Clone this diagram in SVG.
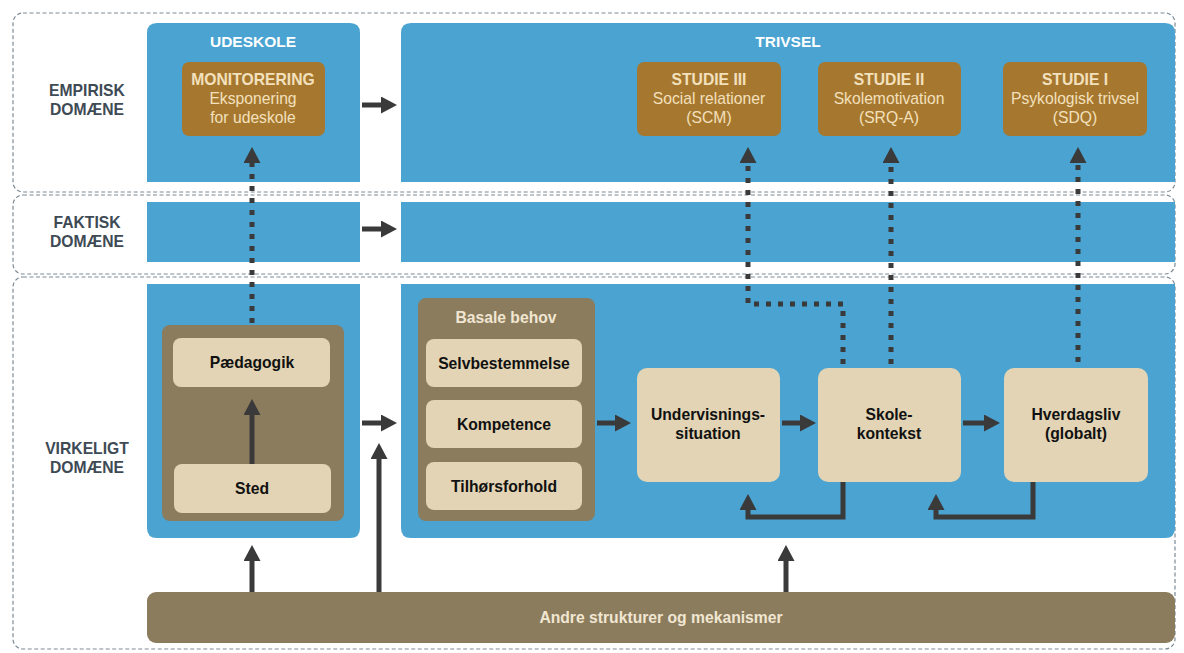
<svg xmlns="http://www.w3.org/2000/svg" width="1184" height="653" viewBox="0 0 1184 653">
<style>
.dom{fill:none;stroke:#7d8b96;stroke-width:1.2;stroke-dasharray:4 2.5}
.blue{fill:#4aa3d0}
.stud{fill:#a6782f}
.khaki{fill:#8b7c5d}
.cream{fill:#e2d4b4}
.dl{font-family:"Liberation Sans",Arial,sans-serif;font-weight:bold;font-size:15.7px;fill:#3e4a54;text-anchor:middle}
.ttl{font-family:"Liberation Sans",Arial,sans-serif;font-weight:bold;font-size:15.5px;fill:#ffffff;text-anchor:middle}
.sb{font-family:"Liberation Sans",Arial,sans-serif;font-weight:bold;font-size:15.7px;fill:#f3e0bd;text-anchor:middle}
.sr{font-family:"Liberation Sans",Arial,sans-serif;font-size:15.7px;fill:#f3e0bd;text-anchor:middle}
.ct{font-family:"Liberation Sans",Arial,sans-serif;font-weight:bold;font-size:15.7px;fill:#111111;text-anchor:middle}
.bh{font-family:"Liberation Sans",Arial,sans-serif;font-weight:bold;font-size:15.7px;fill:#f1e6d2;text-anchor:middle}
.ar{fill:none;stroke:#3a3a3a;stroke-width:5;marker-end:url(#ah)}
.dot{fill:none;stroke:#3a3a3a;stroke-width:5;stroke-dasharray:5 7;marker-end:url(#ah)}
</style>
<defs>
<marker id="ah" viewBox="0 0 16 17" refX="0" refY="8.5" markerWidth="16" markerHeight="17" markerUnits="userSpaceOnUse" orient="auto">
<path d="M0,0 L16,8.5 L0,17 Z" fill="#3a3a3a"/>
</marker>
</defs>
<rect width="1184" height="653" fill="#ffffff"/>

<g id="domains">
<rect class="dom" x="13" y="13" width="1162" height="179" rx="10"/>
<rect class="dom" x="13" y="195" width="1162" height="79" rx="10"/>
<rect class="dom" x="13" y="277" width="1162" height="372" rx="10"/>
<text class="dl" x="87" y="96">EMPIRISK</text>
<text class="dl" x="87" y="115">DOMÆNE</text>
<text class="dl" x="87" y="228">FAKTISK</text>
<text class="dl" x="87" y="247">DOMÆNE</text>
<text class="dl" x="87" y="454">VIRKELIGT</text>
<text class="dl" x="87" y="473">DOMÆNE</text>
</g>

<g id="udeskole">
<path class="blue" d="M147,182 V33 Q147,23 157,23 H350 Q360,23 360,33 V182 Z"/>
<rect class="blue" x="147" y="202" width="213" height="60"/>
<path class="blue" d="M147,284 H360 V528 Q360,538 350,538 H157 Q147,538 147,528 Z"/>
<text class="ttl" x="253" y="47">UDESKOLE</text>
</g>

<g id="trivsel">
<path class="blue" d="M401,182 V33 Q401,23 411,23 H1165 Q1175,23 1175,33 V182 Z"/>
<rect class="blue" x="401" y="202" width="774" height="60"/>
<path class="blue" d="M401,284 H1175 V528 Q1175,538 1165,538 H411 Q401,538 401,528 Z"/>
<text class="ttl" x="788" y="47">TRIVSEL</text>
</g>

<g id="monitorering">
<rect class="stud" x="182" y="62" width="143" height="74" rx="7"/>
<text class="sb" x="253" y="85">MONITORERING</text>
<text class="sr" x="253" y="104">Eksponering</text>
<text class="sr" x="253" y="123">for udeskole</text>
</g>
<g id="studie3">
<rect class="stud" x="637" y="62" width="144" height="74" rx="7"/>
<text class="sb" x="709" y="85">STUDIE III</text>
<text class="sr" x="709" y="104">Social relationer</text>
<text class="sr" x="709" y="123">(SCM)</text>
</g>
<g id="studie2">
<rect class="stud" x="818" y="62" width="143" height="74" rx="7"/>
<text class="sb" x="889" y="85">STUDIE II</text>
<text class="sr" x="889" y="104">Skolemotivation</text>
<text class="sr" x="889" y="123">(SRQ-A)</text>
</g>
<g id="studie1">
<rect class="stud" x="1003" y="62" width="144" height="74" rx="7"/>
<text class="sb" x="1075" y="85">STUDIE I</text>
<text class="sr" x="1075" y="104">Psykologisk trivsel</text>
<text class="sr" x="1075" y="123">(SDQ)</text>
</g>

<g id="udeskole-inner">
<rect class="khaki" x="162" y="325" width="182" height="196" rx="8"/>
</g>
<g id="paedagogik">
<rect class="cream" x="173" y="338" width="157" height="49" rx="8"/>
<text class="ct" x="252" y="368">Pædagogik</text>
</g>
<g id="sted">
<rect class="cream" x="174" y="464" width="157" height="49" rx="8"/>
<text class="ct" x="252" y="494">Sted</text>
</g>

<g id="basale-behov">
<rect class="khaki" x="418" y="298" width="177" height="223" rx="8"/>
<text class="bh" x="506" y="323">Basale behov</text>
</g>
<g id="selvbestemmelse">
<rect class="cream" x="426" y="339" width="156" height="48" rx="8"/>
<text class="ct" x="504" y="369">Selvbestemmelse</text>
</g>
<g id="kompetence">
<rect class="cream" x="426" y="400" width="156" height="48" rx="8"/>
<text class="ct" x="504" y="430">Kompetence</text>
</g>
<g id="tilhoersforhold">
<rect class="cream" x="426" y="462" width="156" height="48" rx="8"/>
<text class="ct" x="504" y="492">Tilhørsforhold</text>
</g>

<g id="undervisning">
<rect class="cream" x="637" y="368" width="143" height="114" rx="10"/>
<text class="ct" x="708" y="420">Undervisnings-</text>
<text class="ct" x="708" y="439">situation</text>
</g>
<g id="skolekontekst">
<rect class="cream" x="818" y="368" width="143" height="114" rx="10"/>
<text class="ct" x="889" y="420">Skole-</text>
<text class="ct" x="889" y="439">kontekst</text>
</g>
<g id="hverdagsliv">
<rect class="cream" x="1004" y="368" width="144" height="114" rx="10"/>
<text class="ct" x="1076" y="420">Hverdagsliv</text>
<text class="ct" x="1076" y="439">(globalt)</text>
</g>

<g id="andre">
<rect class="khaki" x="147" y="592" width="1028" height="51" rx="9"/>
<text class="bh" x="661" y="623">Andre strukturer og mekanismer</text>
</g>

<g id="connectors">
<line class="ar" x1="362" y1="105" x2="381" y2="105"/>
<line class="ar" x1="362" y1="229" x2="381" y2="229"/>
<line class="ar" x1="362" y1="423" x2="381" y2="423"/>
<line class="ar" x1="252" y1="464" x2="252" y2="415"/>
<line class="ar" x1="597" y1="423" x2="615" y2="423"/>
<line class="ar" x1="782" y1="423" x2="800" y2="423"/>
<line class="ar" x1="963" y1="423" x2="984" y2="423"/>
<path class="ar" d="M843,482 V517 H748 V510"/>
<path class="ar" d="M1033,482 V517 H936 V510"/>
<line class="ar" x1="252" y1="592" x2="252" y2="561"/>
<line class="ar" x1="379" y1="592" x2="379" y2="459"/>
<line class="ar" x1="786" y1="592" x2="786" y2="561"/>
<path class="dot" d="M252,323 V163"/>
<path class="dot" d="M843,364 V304 H748 V163"/>
<path class="dot" d="M891,364 V163"/>
<path class="dot" d="M1078,362 V163"/>
</g>
</svg>
